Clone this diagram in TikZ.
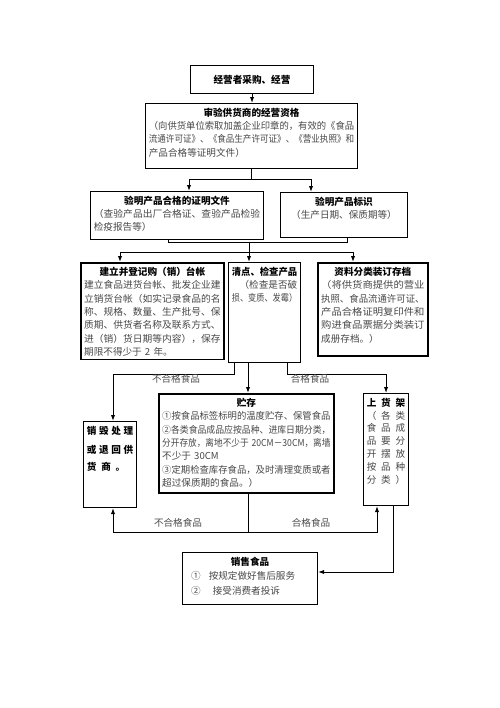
\documentclass[tikz,border=0pt]{standalone}
\usepackage{fontspec}
\usepackage{graphicx}
\setmainfont{Noto Sans CJK SC}
\usetikzlibrary{arrows.meta}

\tikzset{every picture/.style={line width=0.75pt}}
\tikzset{
  head/.style={draw, line width=0.8pt, anchor=north west, inner sep=2pt, font=\fontsize{7.2}{10}\selectfont\bfseries},
  box/.style={draw, line width=0.8pt, anchor=north west, inner xsep=2.5pt, inner ysep=3pt, text height=6.5pt, align=left, font=\fontsize{7.2}{10}\selectfont, text=black!72},
  thick box/.style={box, line width=1.3pt},
  flow/.style={-{Latex[length=4.5pt,width=3.2pt]}, line width=0.75pt},
  tag/.style={font=\fontsize{7.2}{9}\selectfont, text=black!70, inner sep=1pt}
}
\newcommand{\boxtitle}[1]{{\centering\leavevmode\color{black}\bfseries #1\par}}
\newcommand{\fitline}[1]{\resizebox{\linewidth}{\height}{#1}}

\begin{document}
\begin{tikzpicture}[x=0.75pt,y=0.75pt,yscale=-1]
\useasboundingbox (0,0) rectangle (500,708);

%Shape: Rectangle [buyer]
\node[head, minimum width=92.25pt, minimum height=21pt] (buyer) at (190,65) {经营者采购、经营};
%Shape: Rectangle [qualify]
\node[box, text width=154pt, text depth=36.25pt] (qualify) at (145,103) {\boxtitle{审验供货商的经营资格}%
\fitline{（向供货单位索取加盖企业印章的，有效的《食品}\\
\fitline{流通许可证》、《食品生产许可证》、《营业执照》和}\\
产品合格等证明文件）};
%Shape: Rectangle [cert]
\node[box, text width=124.75pt, text depth=23.5pt] (cert) at (90,191) {\boxtitle{验明产品合格的证明文件}%
\fitline{（查验产品出厂合格证、查验产品检验}\\
检疫报告等）};
%Shape: Rectangle [mark]
\node[box, text width=90.25pt, text depth=21.25pt] (mark) at (280,192) {\boxtitle{验明产品标识}%
{\centering （生产日期、保质期等）\par}};
%Shape: Rectangle [ledger]
\node[thick box, text width=102.25pt, text depth=60pt] (ledger) at (80,262) {\boxtitle{建立并登记购（销）台帐}%
\fitline{建立食品进货台帐、批发企业建}\\
\fitline{立销货台帐（如实记录食品的名}\\
\fitline{称、规格、数量、生产批号、保}\\
\fitline{质期、供货者名称及联系方式、}\\
\fitline{进（销）货日期等内容），保存}\\
期限不得少于 2 年。};
%Shape: Rectangle [check]
\node[box, text width=49pt, text depth=62.5pt] (check) at (228,262) {\boxtitle{\fitline{清点、检查产品}}%
\hfill （检查是否破\\
\fitline{损、变质、发霉）}};
%Shape: Rectangle [archive]
\node[thick box, text width=77.5pt, text depth=57.25pt] (archive) at (317,262) {\boxtitle{资料分类装订存档}%
\fitline{（将供货商提供的营业}\\
\fitline{执照、食品流通许可证、}\\
\fitline{产品合格证明复印件和}\\
\fitline{购进食品票据分类装订}\\
成册存档。）};
%Shape: Rectangle [destroy]
\node[box, text width=34.75pt, text depth=52pt, font=\fontsize{7.2}{12.5}\selectfont\bfseries, text=black] (destroy) at (83,421) {\vspace{2pt}销\hfill 毁\hfill 处\hfill 理\\
或\hfill 退\hfill 回\hfill 供\\
货\,\,\,商\,\,\,。};
%Shape: Rectangle [store]
\node[thick box, text width=126.25pt, text depth=61.75pt] (store) at (158,393) {\boxtitle{贮存}%
\fitline{①按食品标签标明的温度贮存、保管食品}\\
\fitline{②各类食品成品应按品种、进库日期分类，}\\
\fitline{分开存放，离地不少于 20CM－30CM，离墙}\\
不少于 30CM\\
\fitline{③定期检查库存食品，及时清理变质或者}\\
超过保质期的食品。）};
%Shape: Rectangle [shelf]
\node[box, text width=28.75pt, text depth=71.5pt, font=\fontsize{7.2}{9.6}\selectfont] (shelf) at (363,393) {{\color{black}\bfseries 上\hfill 货\hfill 架}\\
（\hfill 各\hfill 类\\
食\hfill 品\hfill 成\\
品\hfill 要\hfill 分\\
开\hfill 摆\hfill 放\\
按\hfill 品\hfill 种\\
分\hfill 类\hfill ）};
%Shape: Rectangle [sell]
\node[box, text width=96.25pt, text depth=26.5pt, font=\fontsize{7.2}{11}\selectfont] (sell) at (182,552) {\boxtitle{销售食品}%
\hspace{4pt}①\hspace{6pt}按规定做好售后服务\\
\hspace{4pt}②\hspace{9pt}接受消费者投诉};

%Straight Lines [top part]
\draw[flow] (buyer.south) -- (qualify.north -| buyer.south);
\coordinate (split1) at (qualify.south |- 0,179);
\draw (qualify.south) -- (split1);
\draw[flow] (split1) -| (cert.north -| 189,0);
\draw[flow] (split1) -| (mark.north -| 311,0);
%Straight Lines [merge]
\coordinate (merge) at (249,242);
\coordinate (split2) at (249,252);
\draw (cert.south -| 168,0) |- (merge);
\draw (mark.south -| 347,0) |- (merge);
\draw (merge) -- (split2);
\draw[flow] (split2) -| (ledger.north -| 120,0);
\draw[flow] (split2) -- (check.north -| split2);
\draw[flow] (split2) -| (archive.north -| 353,0);
%Straight Lines [sorting]
\draw[flow] (check.south -| 234,0) -- ++(0,11) -| (destroy.north -| 113,0);
\draw[flow] (check.south -| 248,0) -- (store.north -| 248,0);
\draw[flow] (check.south -| 287,0) -- ++(0,11) -| (shelf.north);
\node[tag] (bad1) at (176,379) {不合格食品};
\node[tag] (good1) at (310,379) {合格食品};
%Straight Lines [bottom part]
\coordinate (split3) at (248,532);
\draw (store.south -| split3) -- (split3);
\draw[flow] (split3) -| (destroy.south -| 113,0);
\draw[flow] (split3) -| (shelf.south -| 377,0);
\node[tag] (bad2) at (178,523) {不合格食品};
\node[tag] (good2) at (311,523) {合格食品};
\draw[flow] (shelf.south -| 393,0) |- (sell.east |- 0,572);

\end{tikzpicture}
\end{document}
